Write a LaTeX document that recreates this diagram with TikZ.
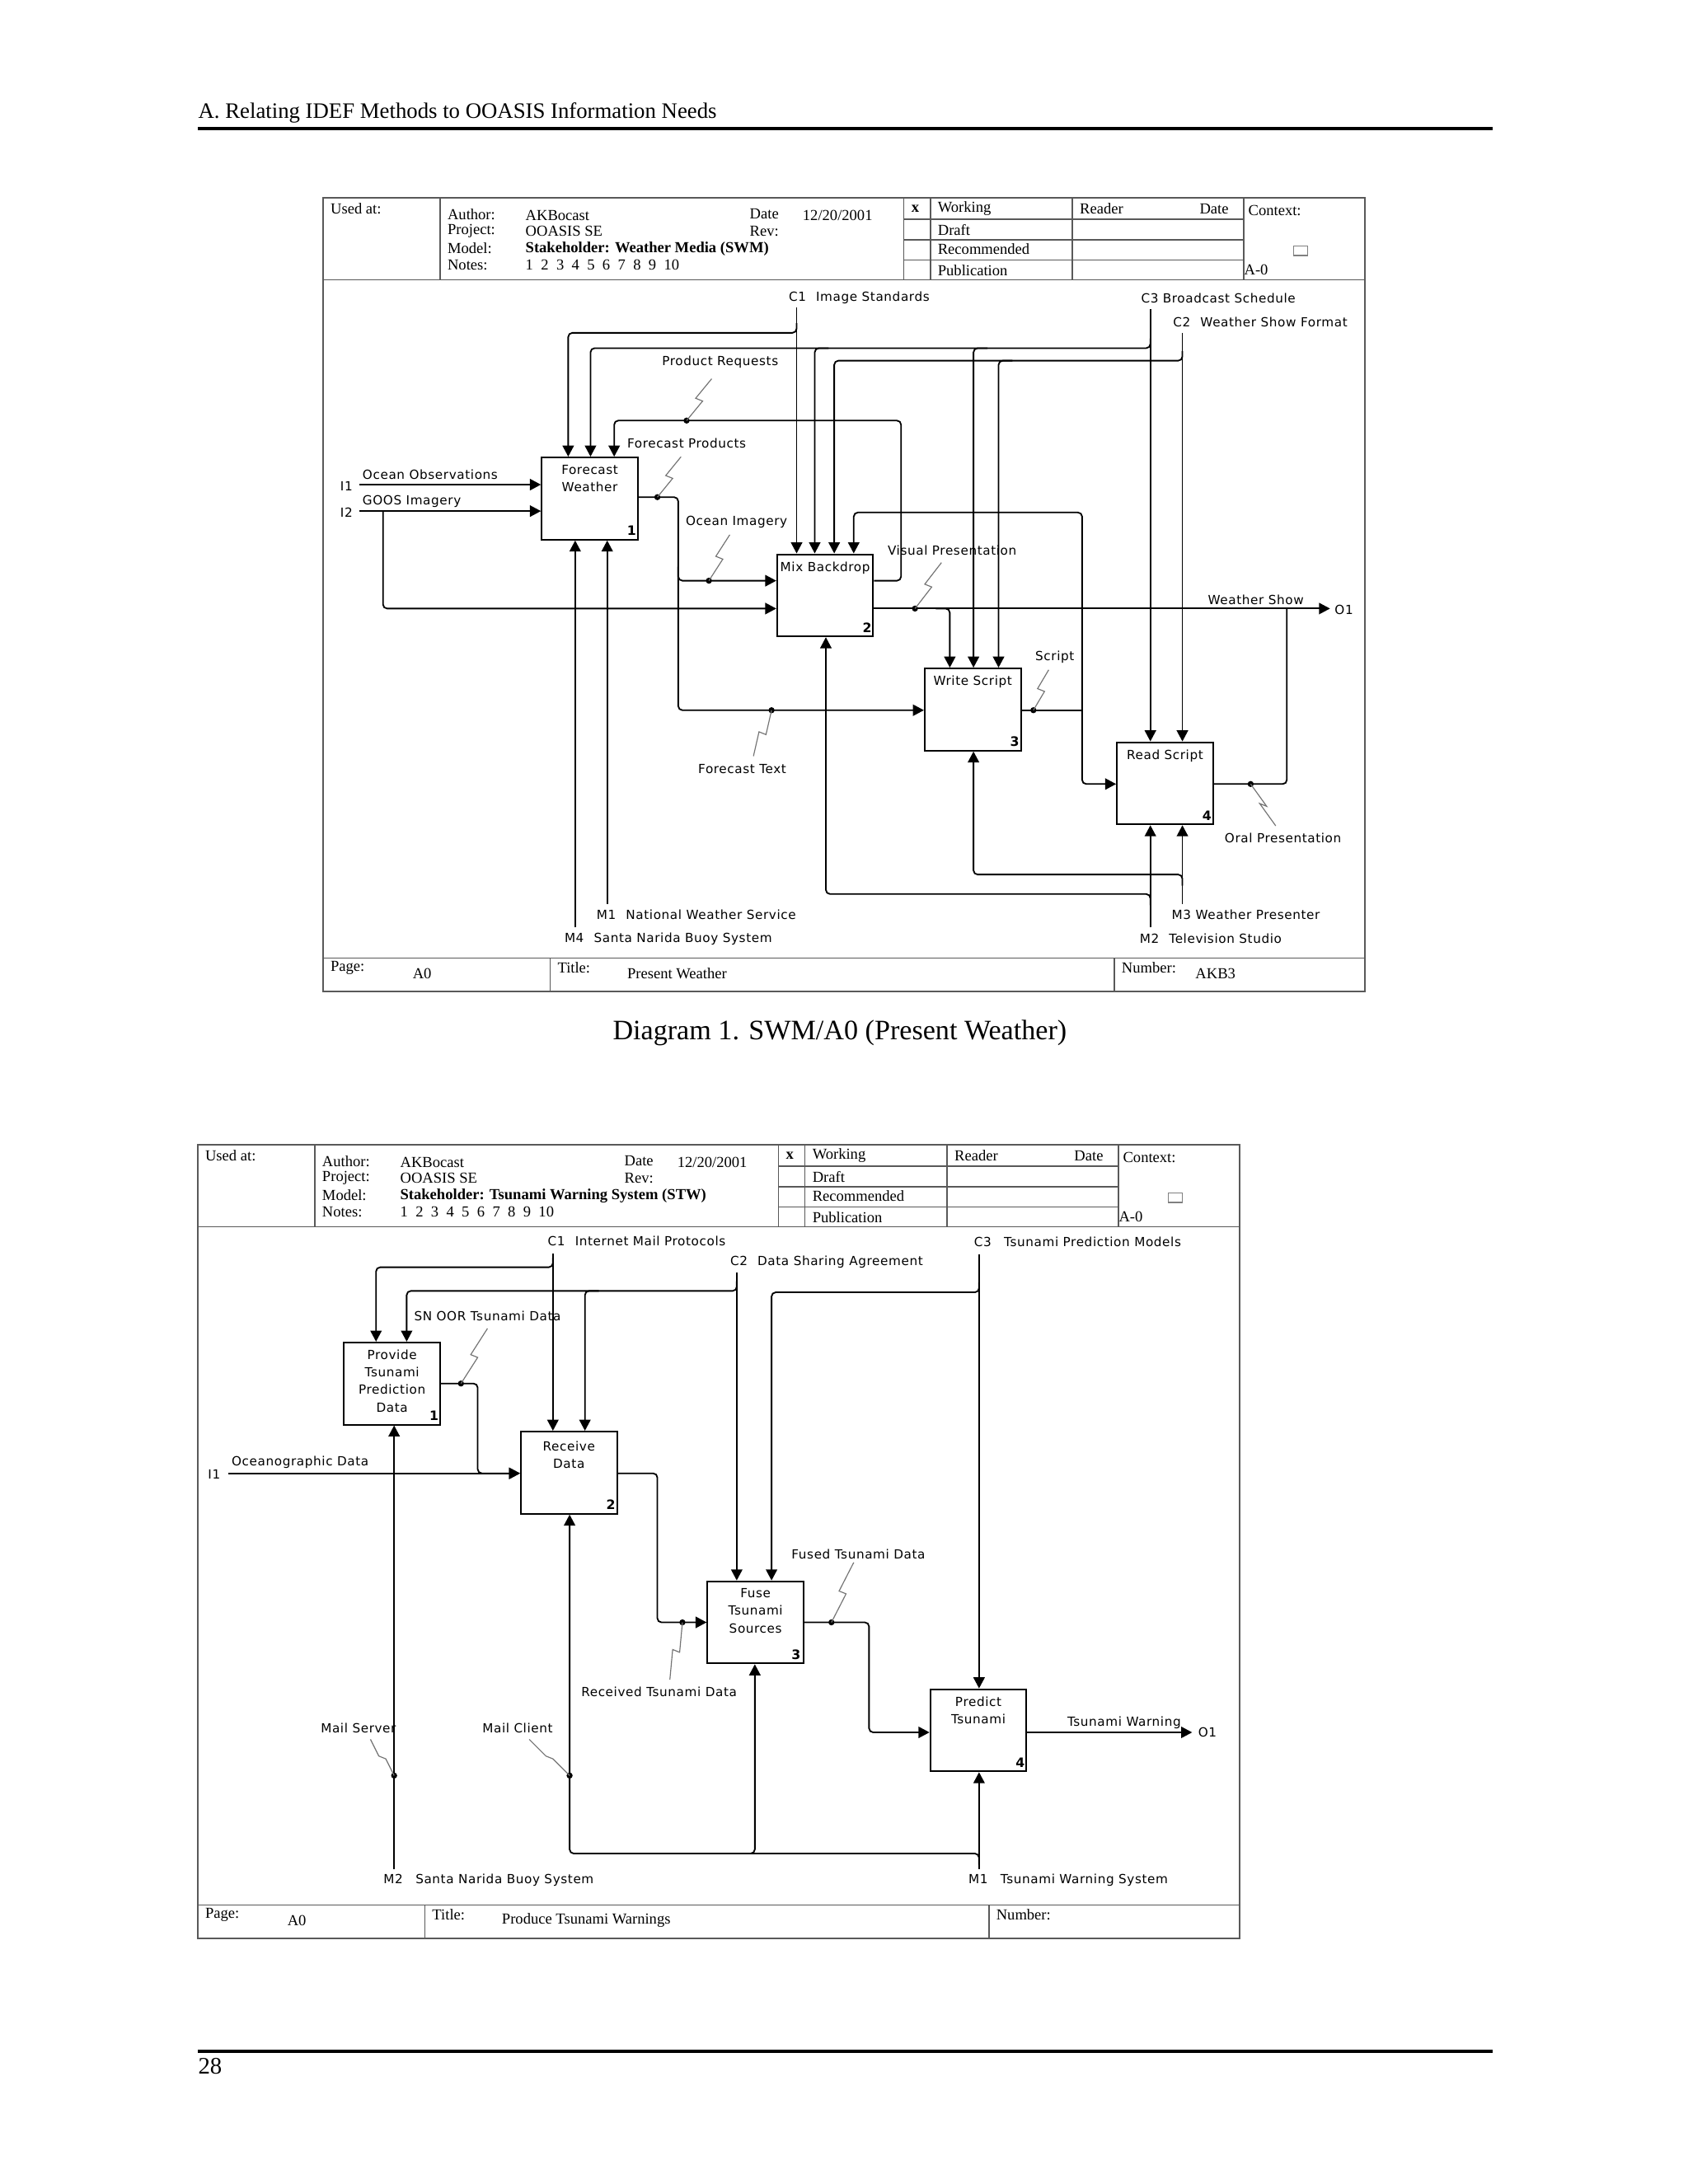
\documentclass[tikz,border=0pt]{standalone}
\usepackage{fontspec}
\usetikzlibrary{arrows.meta,calc}
\setmainfont{Liberation Serif}
\newfontfamily\tnr{Liberation Serif}
\newfontfamily\dv[LetterSpace=4]{DejaVu Sans}
\tikzset{
 ln/.style={line width=0.55pt},
 arr/.style={ln, rounded corners=1.5pt, -{Triangle[length=4pt,width=4.1pt]}},
 pln/.style={ln, rounded corners=1.5pt},
 fbox/.style={draw, line width=0.6pt, minimum width=34.85pt, minimum height=29.8pt, inner sep=0pt},
 dtxt/.style={font=\dv\fontsize{4.55pt}{6.35pt}\selectfont, inner sep=0pt, anchor=west},
 btxt/.style={font=\dv\fontsize{4.55pt}{6.35pt}\selectfont, inner sep=0pt, anchor=north, align=center},
 bnum/.style={font=\dv\bfseries\fontsize{4.7pt}{5pt}\selectfont, inner sep=0pt},
 ttxt/.style={font=\tnr\fontsize{5.55pt}{6.5pt}\selectfont, inner sep=0pt, anchor=west},
 tbold/.style={ttxt, font=\tnr\bfseries\fontsize{5.55pt}{6.5pt}\selectfont},
 frm/.style={draw=black!65, line width=0.5pt},
 sqline/.style={draw=black!55, line width=0.35pt},
 dotn/.style={circle, fill=black, inner sep=0pt, minimum size=2.2pt}
}
\newcommand{\sqg}[2]{\draw[sqline] (#1) -- ($(#1)!0.5!(#2)+(-2.5,-1)$) -- ($(#1)!0.5!(#2)+(2.5,1)$) -- (#2.center);}
\newcommand{\notesrow}{1\hspace{2.8pt}2\hspace{2.8pt}3\hspace{2.8pt}4\hspace{2.8pt}5\hspace{2.8pt}6\hspace{2.8pt}7\hspace{2.8pt}8\hspace{2.8pt}9\hspace{2.8pt}10}
\newcommand{\idefframe}[3]{%
 \draw[frm] (232,142) rectangle (980,712);
 \draw[frm] (232,201) -- (980,201);
 \draw[frm] (316,142) -- (316,201);
 \foreach \xx in {649,668,770,893} {\draw[frm] (\xx,142) -- (\xx,201);}
 \foreach \yy in {157.4,172.4,186.7} {\draw[frm] (649,\yy) -- (893,\yy);}
 \draw[frm] (232,688) -- (980,688);
 \draw[frm] (395,688) -- (395,712);
 \draw[frm] (800,688) -- (800,712);
 \node[ttxt] (#1used) at (237,150) {Used at:};
 \node[ttxt] (#1auth) at (321,154) {Author:};
 \node[ttxt] (#1authv) at (377,154.5) {AKBocast};
 \node[ttxt] (#1date) at (538,153.5) {Date};
 \node[ttxt] (#1datev) at (576,154.5) {12/20/2001};
 \node[ttxt] (#1proj) at (321,166) {Project:};
 \node[ttxt] (#1projv) at (377,166) {OOASIS SE};
 \node[ttxt] (#1rev) at (538,166) {Rev:};
 \node[ttxt] (#1model) at (321,178.5) {Model:};
 \node[tbold] (#1modelv) at (377,178.5) {#2};
 \node[ttxt] (#1notes) at (321,190.5) {Notes:};
 \node[ttxt] (#1notesv) at (377,190.5) {\notesrow};
 \node[tbold] (#1x) at (654,150) {x};
 \node[ttxt] (#1work) at (673,150) {Working};
 \node[ttxt] (#1draft) at (673,165) {Draft};
 \node[ttxt] (#1rec) at (673,179) {Recommended};
 \node[ttxt] (#1pub) at (673,194) {Publication};
 \node[ttxt] (#1reader) at (775,150) {Reader};
 \node[ttxt] (#1rdate) at (861,150) {Date};
 \node[ttxt] (#1ctx) at (896,151) {Context:};
 \draw[draw=black!50, line width=0.4pt] (929,176.5) rectangle (939,183.5);
 \node[ttxt] (#1a0) at (893,194) {A-0};
 \node[ttxt] (#1page) at (237,695) {Page:};
 \node[ttxt] (#1pagev) at (296,699) {A0};
 \node[ttxt] (#1title) at (400,695) {Title:};
 \node[ttxt] (#1titlev) at (450,699) {#3};
 \node[ttxt] (#1num) at (805,695) {Number:};
}
\begin{document}
\begin{tikzpicture}[x=0.505pt,y=-0.505pt]
\useasboundingbox (0,0) rectangle (1211.88,1568.32);
\fill[white] (0,0) rectangle (1211.88,1568.32);
% page header / footer
\node[ttxt, font=\tnr\fontsize{8pt}{9pt}\selectfont] (hdr) at (142,81) {A. Relating IDEF Methods to OOASIS Information Needs};
\draw[line width=1.1pt] (142,92.5) -- (1072,92.5);
\draw[line width=1.1pt] (142,1473) -- (1072,1473);
\node[ttxt, font=\tnr\fontsize{8.6pt}{9pt}\selectfont] (pgno) at (142,1484) {28};
\node[font=\tnr\fontsize{10.2pt}{12pt}\selectfont, inner sep=0pt] (cap1) at (603,742) {Diagram 1. SWM/A0 (Present Weather)};

% ================= Diagram 1 =================
\idefframe{fa}{Stakeholder: Weather Media (SWM)}{Present Weather}
\node[ttxt] (fanumv) at (858,699) {AKB3};

\node[fbox] (b1) at (423.5,358) {};
\node[btxt] (b1t) at ($(b1.north)+(0,5.5)$) {Forecast\\Weather};
\node[bnum] (b1n) at ($(b1.south east)+(-5,-7)$) {1};
\node[fbox] (b2) at (592.5,427.5) {};
\node[btxt] (b2t) at ($(b2.north)+(0,5.5)$) {Mix Backdrop};
\node[bnum] (b2n) at ($(b2.south east)+(-5,-7)$) {2};
\node[fbox] (b3) at (698.5,509.5) {};
\node[btxt] (b3t) at ($(b3.north)+(0,5.5)$) {Write Script};
\node[bnum] (b3n) at ($(b3.south east)+(-5,-7)$) {3};
\node[fbox] (b4) at (836.5,562.5) {};
\node[btxt] (b4t) at ($(b4.north)+(0,5.5)$) {Read Script};
\node[bnum] (b4n) at ($(b4.south east)+(-5,-7)$) {4};

% controls
\node[dtxt] (c1l) at (566,214) {C1\hspace{2pt} Image Standards};
\draw[arr] (572,221) -- (572,0 |- b2.north);
\draw[arr] (572,232) |- (408,239) -- (408,0 |- b1.north);
\node[dtxt] (c3l) at (819,214) {C3 Broadcast Schedule};
\draw[arr] (826,222) -- (826,0 |- b4.north);
\draw[arr] (826,243) |- (424,250) -- (424,0 |- b1.north);
\draw[arr] (595,250) -| (585,0 |- b2.north);
\draw[arr] (709,250) -| (699,0 |- b3.north);
\node[dtxt] (c2l) at (842,231) {C2\hspace{2pt} Weather Show Format};
\draw[arr] (849,239) -- (849,0 |- b4.north);
\draw[arr] (849,252) |- (599,259) -- (599,0 |- b2.north);
\draw[arr] (727,259) -| (717,0 |- b3.north);

% product requests
\draw[arr] (b2.east |- 0,417) -| (647,302) -| (441,0 |- b1.north);
\node[dotn] (dpr) at (493,302) {};
\node[dtxt] (lpr) at (475,260) {Product Requests};
\sqg{511,272}{dpr}

% forecast products
\draw[arr] (b1.east |- 0,357) -- (487,357) -- (487,510) -- (b3.west |- 0,510);
\draw[arr] (487,407) |- (b2.west |- 0,417);
\node[dotn] (dfp) at (472,357) {};
\node[dtxt] (lfp) at (450,318) {Forecast Products};
\sqg{489,328}{dfp}
\node[dotn] (doi) at (509,417) {};
\node[dtxt] (loi) at (492,375) {Ocean Imagery};
\sqg{524,384}{doi}
\node[dotn] (dft) at (554,510) {};
\node[dtxt] (lft) at (501,552) {Forecast Text};
\sqg{541,543}{dft}

% inputs
\node[dtxt] (i1l) at (244,349) {I1};
\draw[arr] (258,348) -- (b1.west |- 0,348);
\node[dtxt] (i1t) at (260,341) {Ocean Observations};
\node[dtxt] (i2l) at (244,368) {I2};
\draw[arr] (258,367) -- (b1.west |- 0,367);
\node[dtxt] (i2t) at (260,360) {GOOS Imagery};
\draw[arr] (275,367) |- (b2.west |- 0,437);

% output
\draw[arr] (b2.east |- 0,437) -- (955,437);
\node[dtxt] (o1l) at (958,438) {O1};
\node[dtxt] (wsl) at (867,431) {Weather Show};
\node[dotn] (dvp) at (657,437) {};
\node[dtxt] (lvp) at (637,395) {Visual Presentation};
\sqg{676,404}{dvp}
\draw[arr] (672,437) -| (682,0 |- b3.north);

% script
\draw[pln] (b3.east |- 0,510) -- (777,510);
\draw[arr] (777,510) |- (613,368) -- (613,0 |- b2.north);
\draw[arr] (777,510) |- (b4.west |- 0,563);
\node[dotn] (dsc) at (742,510) {};
\node[dtxt] (lsc) at (743,472) {Script};
\sqg{753,481}{dsc}

% oral presentation
\draw[pln] (b4.east |- 0,563) -| (924,437);
\node[dotn] (dop) at (898,563) {};
\node[dtxt] (lop) at (879,602) {Oral Presentation};
\sqg{916,593}{dop}

% mechanisms
\draw[arr] (436,649) -- (436,0 |- b1.south);
\draw[arr] (413,666) -- (413,0 |- b1.south);
\node[dtxt] (m1l) at (428,657) {M1\hspace{2pt} National Weather Service};
\node[dtxt] (m4l) at (405,674) {M4\hspace{2pt} Santa Narida Buoy System};
\draw[arr] (849,649) -- (849,0 |- b4.south);
\draw[arr] (849,636) |- (699,628) -- (699,0 |- b3.south);
\draw[arr] (826,666) -- (826,0 |- b4.south);
\draw[arr] (826,650) |- (593,642) -- (593,0 |- b2.south);
\node[dtxt] (m3l) at (841,657) {M3 Weather Presenter};
\node[dtxt] (m2l) at (818,674) {M2\hspace{2pt} Television Studio};

% ================= Diagram 2 =================
\begin{scope}[shift={(-90,680)}]
\idefframe{fb}{Stakeholder: Tsunami Warning System (STW)}{Produce Tsunami Warnings}
\end{scope}

\node[fbox] (B1) at (281.5,993.5) {};
\node[btxt] (B1t) at ($(B1.north)+(0,5.5)$) {Provide\\Tsunami\\Prediction\\Data};
\node[bnum] (B1n) at ($(B1.south east)+(-5,-7)$) {1};
\node[fbox] (B2) at (408.5,1057.5) {};
\node[btxt] (B2t) at ($(B2.north)+(0,7)$) {Receive\\Data};
\node[bnum] (B2n) at ($(B2.south east)+(-5,-7)$) {2};
\node[fbox] (B3) at (542.5,1165) {};
\node[btxt] (B3t) at ($(B3.north)+(0,5.5)$) {Fuse\\Tsunami\\Sources};
\node[bnum] (B3n) at ($(B3.south east)+(-6,-7)$) {3};
\node[fbox] (B4) at (702.5,1242.5) {};
\node[btxt] (B4t) at ($(B4.north)+(0,5.5)$) {Predict\\Tsunami};
\node[bnum] (B4n) at ($(B4.south east)+(-5,-7)$) {4};

% controls
\node[dtxt] (C1l) at (393,891) {C1\hspace{2pt} Internet Mail Protocols};
\draw[arr] (397,900) -- (397,0 |- B2.north);
\draw[arr] (397,903) |- (270,910) -- (270,0 |- B1.north);
\node[dtxt] (C2l) at (524,906) {C2\hspace{2pt} Data Sharing Agreement};
\draw[arr] (529,914) -- (529,0 |- B3.north);
\draw[arr] (529,920) |- (292,927) -- (292,0 |- B1.north);
\draw[arr] (430,927) -| (420,0 |- B2.north);
\node[dtxt] (C3l) at (699,892) {C3\hspace{3pt} Tsunami Prediction Models};
\draw[arr] (703,901) -- (703,0 |- B4.north);
\draw[arr] (703,921) |- (554,928) -- (554,0 |- B3.north);

% B1 output
\draw[arr] (B1.east |- 0,993.5) -| (343,1058) -- (B2.west |- 0,1058);
\node[dotn] (dsn) at (331,993.5) {};
\node[dtxt] (lsn) at (297,945) {SN OOR Tsunami Data};
\sqg{350,954}{dsn}

% input
\node[dtxt] (I1l) at (149,1059) {I1};
\draw[arr] (164,1058) -- (B2.west |- 0,1058);
\node[dtxt] (I1t) at (166,1050) {Oceanographic Data};

% B2 output
\draw[arr] (B2.east |- 0,1058) -| (472,1165) -- (B3.west |- 0,1165);
\node[dotn] (drt) at (490,1165) {};
\node[dtxt] (lrt) at (417,1215) {Received Tsunami Data};
\sqg{481,1206}{drt}

% B3 output
\draw[arr] (B3.east |- 0,1165) -| (624,1244) -- (B4.west |- 0,1244);
\node[dotn] (dfu) at (597,1165) {};
\node[dtxt] (lfu) at (568,1116) {Fused Tsunami Data};
\sqg{613,1122}{dfu}

% output
\draw[arr] (B4.east |- 0,1244) -- (856,1244);
\node[dtxt] (lTW) at (766,1237) {Tsunami Warning};
\node[dtxt] (O1l) at (860,1244) {O1};

% mechanisms
\draw[arr] (283,1342) -- (283,0 |- B1.south);
\node[dotn] (dms) at (283,1275) {};
\node[dtxt] (lms) at (230,1241) {Mail Server};
\sqg{266,1249}{dms}
\draw[arr] (703,1342) -- (703,0 |- B4.south);
\draw[arr] (703,1339) |- (409,1331) -- (409,0 |- B2.south);
\draw[arr] (532,1331) -| (542,0 |- B3.south);
\node[dotn] (dmc) at (409,1275) {};
\node[dtxt] (lmc) at (346,1241) {Mail Client};
\sqg{380,1249}{dmc}
\node[dtxt] (M2l) at (275,1350) {M2\hspace{3pt} Santa Narida Buoy System};
\node[dtxt] (M1l) at (695,1350) {M1\hspace{3pt} Tsunami Warning System};
\end{tikzpicture}
\end{document}
